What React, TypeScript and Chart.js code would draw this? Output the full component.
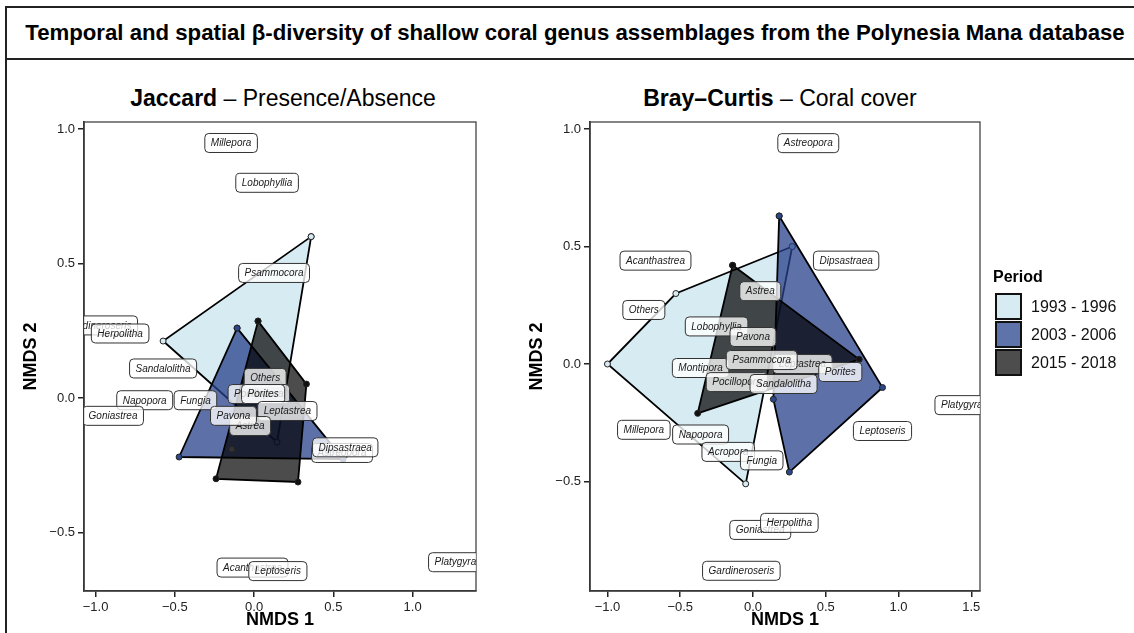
import React, { useEffect, useRef } from "react";
import { Chart, registerables } from "chart.js";

Chart.register(...registerables);

const FONT = '"Liberation Sans", Arial, Helvetica, sans-serif';

const periods = ["1993 - 1996", "2003 - 2006", "2015 - 2018"];
const periodFill = ["rgba(173,216,230,0.5)", "rgba(39,64,139,0.75)", "rgba(0,0,0,0.7)"];
const periodPoint = ["#d6ebf2", "#2c4789", "#111111"];
const legendSwatch = ["#d6ebf2", "#5d73aa", "#4d4d4d"];

// Jaccard (presence/absence) hull vertices per period
const jac1993X = [0.36, -0.574, 0.145];
const jac1993Y = [0.6, 0.212, -0.164];
const jac2003X = [-0.107, -0.473, 0.562];
const jac2003Y = [0.26, -0.219, -0.227];
const jac2015X = [0.025, 0.33, 0.277, -0.24];
const jac2015Y = [0.286, 0.052, -0.312, -0.3];
const jacInnerX = [-0.14];
const jacInnerY = [-0.19];

// Bray-Curtis (coral cover) hull vertices per period
const bc1993X = [0.27, -0.53, -1.0, -0.05];
const bc1993Y = [0.5, 0.3, 0.0, -0.51];
const bc2003X = [0.18, 0.89, 0.25, 0.14];
const bc2003Y = [0.63, -0.1, -0.46, -0.15];
const bc2015X = [-0.14, 0.73, -0.38];
const bc2015Y = [0.42, 0.02, -0.21];

// Genus labels (Jaccard)
const jacGenus = [
  "Millepora", "Lobophyllia", "Psammocora", "Gardineroseris", "Herpolitha",
  "Sandalolitha", "Napopora", "Goniastrea", "Fungia", "Others", "Pocillopora",
  "Porites", "Leptastrea", "Astrea", "Pavona", "Astreopora", "Dipsastraea",
  "Acanthastrea", "Leptoseris", "Platygyra",
];
const jacGenusX = [
  -0.145, 0.082, 0.126, -0.98, -0.845, -0.574, -0.69, -0.89, -0.37, 0.07, 0.03,
  0.057, 0.21, -0.025, -0.13, 0.555, 0.575, -0.01, 0.15, 1.27,
];
const jacGenusY = [
  0.948, 0.8, 0.465, 0.27, 0.24, 0.11, -0.008, -0.066, -0.008, 0.075, 0.015,
  0.015, -0.048, -0.104, -0.066, -0.204, -0.183, -0.63, -0.643, -0.61,
];

// Genus labels (Bray-Curtis)
const bcGenus = [
  "Astreopora", "Acanthastrea", "Dipsastraea", "Astrea", "Others", "Lobophyllia",
  "Pavona", "Montipora", "Leptastrea", "Psammocora", "Porites", "Pocillopora",
  "Sandalolitha", "Millepora", "Napopora", "Acropora", "Fungia", "Leptoseris",
  "Platygyra", "Goniastrea", "Herpolitha", "Gardineroseris",
];
const bcGenusX = [
  0.38, -0.67, 0.64, 0.05, -0.75, -0.25, 0.0, -0.36, 0.34, 0.06, 0.6, -0.11,
  0.21, -0.75, -0.36, -0.17, 0.06, 0.89, 1.435, 0.05, 0.25, -0.08,
];
const bcGenusY = [
  0.94, 0.44, 0.44, 0.31, 0.23, 0.16, 0.115, -0.017, 0.0, 0.017, -0.034, -0.077,
  -0.085, -0.28, -0.3, -0.374, -0.41, -0.285, -0.175, -0.706, -0.676, -0.88,
];

const jacXTicks = [-1.0, -0.5, 0.0, 0.5, 1.0];
const jacYTicks = [-0.5, 0.0, 0.5, 1.0];
const bcXTicks = [-1.0, -0.5, 0.0, 0.5, 1.0, 1.5];
const bcYTicks = [-0.5, 0.0, 0.5, 1.0];

const jacRange = { xMin: -1.073, xMax: 1.4, yMin: -0.717, yMax: 1.026 };
const bcRange = { xMin: -1.12, xMax: 1.56, yMin: -0.966, yMax: 1.03 };

const fmt = (v: number) => v.toFixed(1).replace("-", "\u2212");

function closed(xs: number[], ys: number[]) {
  const pts = xs.map((x, i) => ({ x, y: ys[i] }));
  pts.push({ x: xs[0], y: ys[0] });
  return pts;
}

function makeLabelPlugin(names: string[], xs: number[], ys: number[]) {
  return {
    id: "genusLabels",
    afterDatasetsDraw(chart: any) {
      const { ctx, chartArea: a, scales } = chart;
      ctx.save();
      ctx.beginPath();
      ctx.rect(a.left, a.top, a.right - a.left, a.bottom - a.top);
      ctx.clip();
      ctx.font = `italic 10px ${FONT}`;
      ctx.textAlign = "center";
      ctx.textBaseline = "middle";
      names.forEach((name, i) => {
        const px = scales.x.getPixelForValue(xs[i]);
        const py = scales.y.getPixelForValue(ys[i]);
        const w = ctx.measureText(name).width + 12;
        const h = 19;
        ctx.beginPath();
        ctx.roundRect(px - w / 2, py - h / 2, w, h, 4);
        ctx.fillStyle = "rgba(255,255,255,0.78)";
        ctx.fill();
        ctx.lineWidth = 1;
        ctx.strokeStyle = "#333333";
        ctx.stroke();
        ctx.fillStyle = "#1a1a1a";
        ctx.fillText(name, px, py + 0.5);
      });
      ctx.restore();
    },
  };
}

const boxPlugin = {
  id: "panelBox",
  afterDatasetsDraw(chart: any) {
    const { ctx, chartArea: a } = chart;
    ctx.save();
    ctx.strokeStyle = "#444444";
    ctx.lineWidth = 1.3;
    ctx.strokeRect(a.left, a.top, a.right - a.left, a.bottom - a.top);
    ctx.restore();
  },
};

function hullDataset(idx: number, xs: number[], ys: number[]) {
  return {
    label: periods[idx],
    data: closed(xs, ys),
    showLine: true,
    fill: "shape",
    tension: 0,
    backgroundColor: periodFill[idx],
    borderColor: "#000000",
    borderWidth: 1.8,
    pointRadius: 3,
    pointBackgroundColor: periodPoint[idx],
    pointBorderColor: "#222222",
    pointBorderWidth: 1,
    order: 3 - idx,
  };
}

function buildChart(
  canvas: HTMLCanvasElement,
  datasets: any[],
  range: any,
  xTicks: number[],
  yTicks: number[],
  yWidth: number,
  yTitlePad: number,
  padRight: number,
  labelPlugin: any
) {
  return new Chart(canvas, {
    type: "scatter",
    data: { datasets },
    options: {
      responsive: false,
      animation: false,
      devicePixelRatio: 1,
      layout: { padding: { top: 12, right: padRight, left: 0, bottom: 0 } },
      plugins: {
        legend: { display: false },
        tooltip: { enabled: false },
        title: { display: false },
      },
      scales: {
        x: {
          type: "linear",
          min: range.xMin,
          max: range.xMax,
          afterBuildTicks: (s: any) => {
            s.ticks = xTicks.map((v) => ({ value: v }));
          },
          afterFit: (s: any) => {
            s.height = 42;
          },
          ticks: {
            font: { family: FONT, size: 13 },
            color: "#222222",
            padding: 3,
            maxRotation: 0,
            autoSkip: false,
            callback: (v: any) => fmt(Number(v)),
          },
          grid: {
            display: true,
            drawOnChartArea: false,
            drawTicks: true,
            tickLength: 6,
            color: "#222222",
            lineWidth: 1.5,
          },
          border: { display: true, color: "#222222", width: 1.6 },
          title: {
            display: true,
            text: "NMDS 1",
            font: { family: FONT, size: 18, weight: "bold" },
            color: "#000000",
            padding: { top: 0, bottom: 2 },
          },
        },
        y: {
          type: "linear",
          min: range.yMin,
          max: range.yMax,
          afterBuildTicks: (s: any) => {
            s.ticks = yTicks.map((v) => ({ value: v }));
          },
          afterFit: (s: any) => {
            s.width = yWidth;
          },
          ticks: {
            font: { family: FONT, size: 13 },
            color: "#222222",
            padding: 3,
            autoSkip: false,
            callback: (v: any) => fmt(Number(v)),
          },
          grid: {
            display: true,
            drawOnChartArea: false,
            drawTicks: true,
            tickLength: 6,
            color: "#222222",
            lineWidth: 1.5,
          },
          border: { display: true, color: "#222222", width: 1.6 },
          title: {
            display: true,
            text: "NMDS 2",
            font: { family: FONT, size: 18, weight: "bold" },
            color: "#000000",
            padding: { top: yTitlePad, bottom: 0 },
          },
        },
      },
    } as any,
    plugins: [boxPlugin, labelPlugin],
  });
}

export default function App() {
  const leftRef = useRef<HTMLCanvasElement>(null);
  const rightRef = useRef<HTMLCanvasElement>(null);

  useEffect(() => {
    const jacSets = [
      hullDataset(0, jac1993X, jac1993Y),
      hullDataset(1, jac2003X, jac2003Y),
      hullDataset(2, jac2015X, jac2015Y),
      {
        label: "inner",
        data: jacInnerX.map((x, i) => ({ x, y: jacInnerY[i] })),
        pointRadius: 3,
        pointBackgroundColor: "#333333",
        pointBorderColor: "#222222",
        order: 0,
      },
    ];
    const bcSets = [
      hullDataset(0, bc1993X, bc1993Y),
      hullDataset(1, bc2003X, bc2003Y),
      hullDataset(2, bc2015X, bc2015Y),
    ];
    const c1 = buildChart(
      leftRef.current!, jacSets, jacRange, jacXTicks, jacYTicks, 84, 20, 14,
      makeLabelPlugin(jacGenus, jacGenusX, jacGenusY)
    );
    const c2 = buildChart(
      rightRef.current!, bcSets, bcRange, bcXTicks, bcYTicks, 90, 26, 20,
      makeLabelPlugin(bcGenus, bcGenusX, bcGenusY)
    );
    return () => {
      c1.destroy();
      c2.destroy();
    };
  }, []);

  const subStyle = (cx: number): React.CSSProperties => ({
    position: "absolute",
    left: cx - 250,
    width: 500,
    top: 84,
    height: 28,
    lineHeight: "28px",
    textAlign: "center",
    fontSize: 23,
    fontFamily: FONT,
    color: "#000",
    whiteSpace: "nowrap",
  });

  return (
    <div
      style={{
        position: "absolute",
        left: 0,
        top: 0,
        width: 1134,
        height: 633,
        overflow: "hidden",
        background: "#fff",
        fontFamily: FONT,
      }}
    >
      <div
        style={{
          position: "absolute",
          left: 5,
          top: 6,
          width: 1140,
          height: 54,
          boxSizing: "border-box",
          border: "2px solid #222",
          textAlign: "center",
          lineHeight: "50px",
          fontSize: 22.2,
          fontWeight: "bold",
          color: "#000",
          whiteSpace: "nowrap",
        }}
      >
        Temporal and spatial β-diversity of shallow coral genus assemblages from the Polynesia Mana database
      </div>
      <div
        style={{
          position: "absolute",
          left: 5,
          top: 58,
          width: 2,
          height: 580,
          background: "#222",
        }}
      />
      <div style={subStyle(283)}>
        <b>Jaccard</b> – Presence/Absence
      </div>
      <div style={subStyle(780)}>
        <b>Bray–Curtis</b> – Coral cover
      </div>
      <canvas
        ref={leftRef}
        width={490}
        height={523}
        style={{ position: "absolute", left: 0, top: 110, width: 490, height: 523 }}
      />
      <canvas
        ref={rightRef}
        width={500}
        height={523}
        style={{ position: "absolute", left: 500, top: 110, width: 500, height: 523 }}
      />
      <div
        style={{
          position: "absolute",
          left: 993,
          top: 266,
          fontSize: 16,
          fontWeight: "bold",
          lineHeight: "22px",
          color: "#000",
        }}
      >
        Period
      </div>
      {periods.map((p, i) => (
        <React.Fragment key={p}>
          <div
            style={{
              position: "absolute",
              left: 995,
              top: 293 + i * 28,
              width: 27,
              height: 27,
              boxSizing: "border-box",
              border: "2px solid #111",
              background: legendSwatch[i],
            }}
          />
          <div
            style={{
              position: "absolute",
              left: 1031,
              top: 293 + i * 28,
              height: 27,
              lineHeight: "27px",
              fontSize: 16,
              color: "#111",
              whiteSpace: "nowrap",
            }}
          >
            {p}
          </div>
        </React.Fragment>
      ))}
    </div>
  );
}
